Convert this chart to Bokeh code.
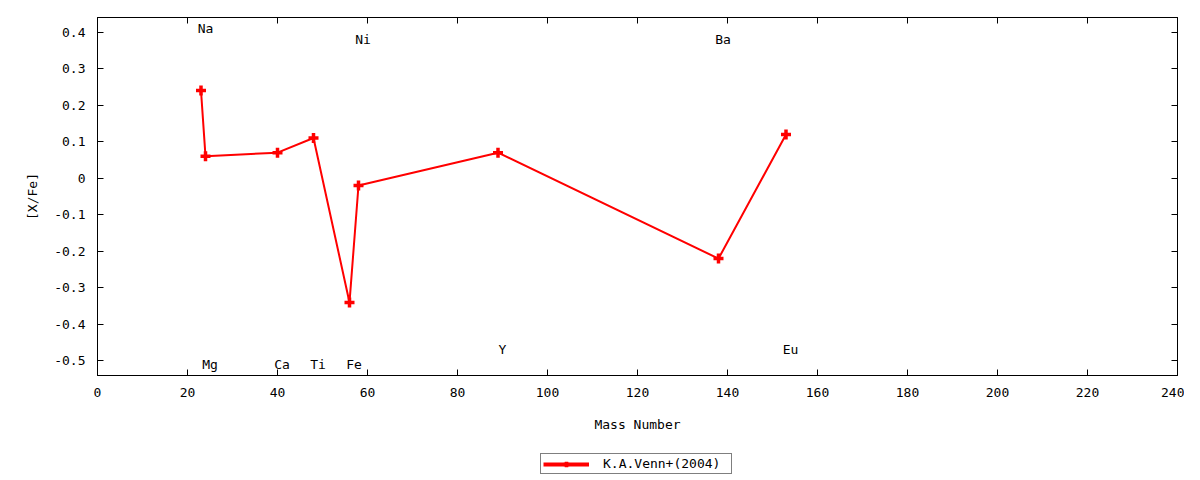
from bokeh.core.properties import value
from bokeh.embed import file_html
from bokeh.layouts import column
from bokeh.models import (ColumnDataSource, CustomJSTickFormatter, FixedTicker,
                          Legend, LegendItem, LinearAxis, Range1d)
from bokeh.plotting import figure
from bokeh.resources import INLINE

# Venn et al. (2004) abundance pattern
elements = ["Na", "Mg", "Ca", "Ti", "Fe", "Ni", "Y", "Ba", "Eu"]
mass_number = [23, 24, 40, 48, 56, 58, 89, 138, 153]
x_fe = [0.24, 0.06, 0.07, 0.11, -0.34, -0.02, 0.07, -0.22, 0.12]

# element name labels (data coordinates)
label_x = [24, 25, 41, 49, 57, 59, 90, 139, 154]
label_y = [0.41, -0.51, -0.51, -0.51, -0.51, 0.38, -0.47, 0.38, -0.47]

x_ticks = list(range(0, 241, 20))
y_ticks = [-0.5, -0.4, -0.3, -0.2, -0.1, 0, 0.1, 0.2, 0.3, 0.4]

FONT = "DejaVu Sans Mono"
FONT_SIZE = "13px"
RED = "#ff0000"


def style_axis(axis):
    axis.axis_line_color = "black"
    axis.major_tick_line_color = "black"
    axis.major_tick_in = 6
    axis.major_tick_out = 0
    axis.minor_tick_line_color = None
    axis.major_label_text_font = FONT
    axis.major_label_text_font_size = FONT_SIZE
    axis.major_label_text_color = "black"
    axis.axis_label_text_font = FONT
    axis.axis_label_text_font_size = FONT_SIZE
    axis.axis_label_text_font_style = "normal"
    axis.axis_label_text_color = "black"


p = figure(
    width=1184,
    height=440,
    x_range=Range1d(0, 240),
    y_range=Range1d(-0.54, 0.44),
    x_axis_label="Mass Number",
    y_axis_label="[X/Fe]",
    output_backend="svg",
    toolbar_location=None,
    min_border_left=97,
    min_border_right=7,
    min_border_top=17,
    min_border_bottom=65,
)
p.grid.visible = False
p.outline_line_color = "black"
p.background_fill_color = "white"
p.border_fill_color = "white"

p.xaxis.ticker = FixedTicker(ticks=x_ticks)
p.yaxis.ticker = FixedTicker(ticks=y_ticks)
p.yaxis.formatter = CustomJSTickFormatter(
    code="var s = tick.toFixed(1); return (s == '0.0' || s == '-0.0') ? '0' : s;"
)
style_axis(p.xaxis[0])
style_axis(p.yaxis[0])
p.xaxis.major_label_standoff = 12
p.yaxis.major_label_standoff = 12
p.xaxis.axis_label_standoff = 17
p.yaxis.axis_label_standoff = 11

# mirrored ticks on top and right, no labels
blank = CustomJSTickFormatter(code="return '';")
top_axis = LinearAxis(ticker=FixedTicker(ticks=x_ticks), formatter=blank)
right_axis = LinearAxis(ticker=FixedTicker(ticks=y_ticks), formatter=blank)
style_axis(top_axis)
style_axis(right_axis)
top_axis.major_label_standoff = 0
right_axis.major_label_standoff = 0
p.add_layout(top_axis, "above")
p.add_layout(right_axis, "right")

source = ColumnDataSource(data=dict(mass=mass_number, xfe=x_fe))
p.line("mass", "xfe", source=source, line_color=RED, line_width=2)
p.scatter("mass", "xfe", source=source, marker="cross", size=10,
          line_color=RED, line_width=3.5)

labels = ColumnDataSource(data=dict(x=label_x, y=label_y, name=elements))
p.text("x", "y", text="name", source=labels, text_font=value(FONT),
       text_font_size=FONT_SIZE, text_color="black", text_align="center",
       text_baseline="middle")

# key sits under the plot, gnuplot style; its renderers hold no visible data
key = figure(
    width=1184,
    height=36,
    x_range=Range1d(0, 1),
    y_range=Range1d(0, 1),
    output_backend="svg",
    toolbar_location=None,
    x_axis_location=None,
    y_axis_location=None,
    min_border=0,
)
key.grid.visible = False
key.outline_line_color = None
nan = float("nan")
key_source = ColumnDataSource(data=dict(x=[nan], y=[nan]))
key_line = key.line("x", "y", source=key_source, line_color=RED, line_width=4)
key_points = key.scatter("x", "y", source=key_source, marker="cross", size=10,
                         line_color=RED, line_width=3.5)

legend = Legend(
    items=[LegendItem(label="K.A.Venn+(2004)", renderers=[key_line, key_points])],
    location=(443, 2),
    padding=2,
    margin=0,
    spacing=0,
    glyph_width=46,
    glyph_height=14,
    label_height=15,
    label_width=126,
    label_standoff=14,
    label_text_font=FONT,
    label_text_font_size=FONT_SIZE,
    label_text_color="black",
    border_line_color="black",
    border_line_width=1,
    background_fill_alpha=1,
)
key.add_layout(legend, "center")

open("out.html", "w").write(file_html(column(p, key, spacing=0), INLINE))
